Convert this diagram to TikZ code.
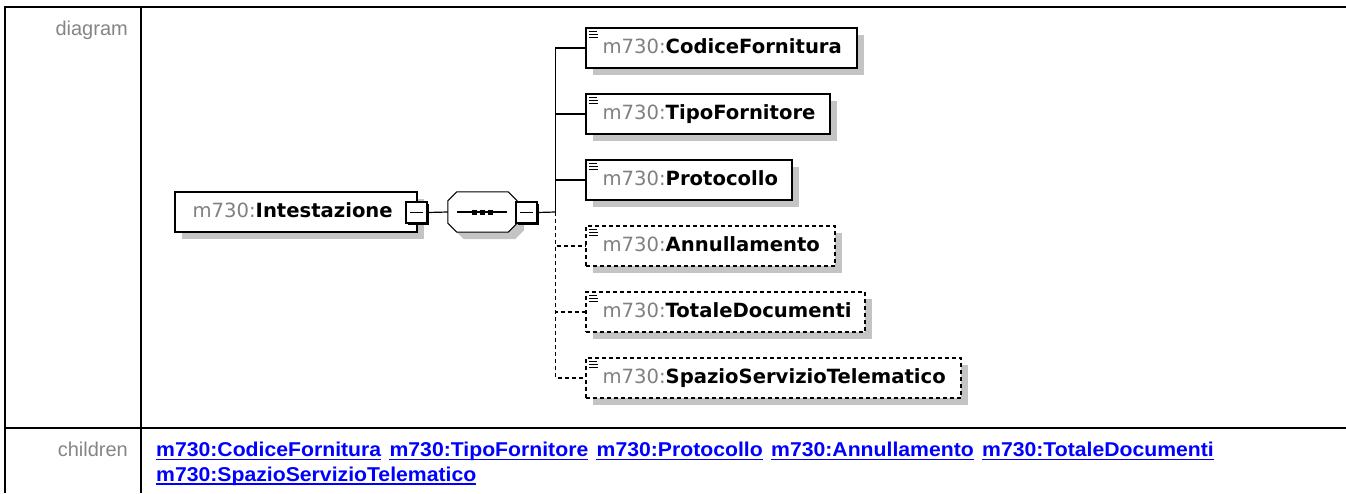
\documentclass[tikz,border=0pt]{standalone}
\usepackage{graphicx}
\usepackage{fontspec}
\setmainfont{Liberation Sans}
\newfontfamily\dvs{DejaVu Sans}
\usetikzlibrary{shadows}
\definecolor{pfx}{HTML}{808080}
\definecolor{nmcol}{HTML}{000000}
\definecolor{shadowgray}{HTML}{C4C4C4}
\definecolor{linkblue}{HTML}{0000FF}
\definecolor{lblgray}{HTML}{858585}
\tikzset{
  shadowed/.style={drop shadow={shadow xshift=7pt, shadow yshift=-7pt, fill=shadowgray, opacity=1}},
  elbox/.style={draw=black, line width=1.2pt, fill=white, inner sep=0pt, shadowed},
  optbox/.style={elbox, dash pattern=on 4pt off 3pt},
  octo/.style={draw=black, line width=1pt, fill=white, shadowed},
  minusbox/.style={draw=black, line width=1.2pt, fill=white, minimum size=21pt, inner sep=0pt,
     drop shadow={shadow xshift=2pt, shadow yshift=-2pt, fill=black, opacity=1},
     path picture={\draw[line width=1.2pt] ([xshift=4pt]path picture bounding box.west) -- ([xshift=-4pt]path picture bounding box.east);}},
  conn/.style={line width=1.2pt},
  optconn/.style={conn, dash pattern=on 4pt off 3pt},
  eltext/.style={anchor=base west, inner sep=0pt, font=\dvs\fontsize{19.6}{22}\selectfont},
  linkstyle/.style={anchor=base west, inner sep=0pt, text=linkblue, font=\bfseries\fontsize{20}{24}\selectfont},
  lbl/.style={anchor=base east, inner sep=0pt, text=lblgray, font=\fontsize{20}{24}\selectfont},
  tline/.style={line width=2pt}
}
\newcommand\wid[1]{\scalebox{1.06}[1]{#1}}
\newcommand\elname[1]{{\color{pfx}m730:}{\bfseries\color{nmcol}#1}}
\newcommand\docicon[1]{%
  \draw[line width=1.1pt] ([shift={(4pt,-4pt)}]#1.north west) -- +(8,0);
  \draw[line width=1.1pt] ([shift={(4pt,-7pt)}]#1.north west) -- +(9,0);
  \draw[line width=1.1pt] ([shift={(4pt,-10pt)}]#1.north west) -- +(9,0);}
\begin{document}
\begin{tikzpicture}[x=1pt,y=-1pt]
\useasboundingbox (0,0) rectangle (1346,493);
% table frame
\draw[tline] (4,7) -- (1346,7);
\draw[tline] (5,6) -- (5,493);
\draw[tline] (141,7) -- (141,493);
\draw[tline] (5,428) -- (1346,428);
\node[lbl] (lbdiag) at (128,35.5) {diagram};
\node[lbl] (lbchild) at (128,456.5) {children};

% root element
\node[elbox, minimum width=242pt, minimum height=40pt] (root) at (296,212) {};
\node[eltext] (roott) at ([shift={(18pt,-26pt)}]root.north west) {\elname{Intestazione}};
\node[minusbox] (m1) at (416.5,212.5) {};

% sequence compositor
\node[draw=none, minimum width=69pt, minimum height=40pt, inner sep=0pt] (seq) at (482.5,212) {};
\path[octo] ([yshift=-9pt]seq.north west) -- ([xshift=9pt]seq.north west) -- ([xshift=-9pt]seq.north east)
  -- ([yshift=-9pt]seq.north east) -- ([yshift=9pt]seq.south east) -- ([xshift=-9pt]seq.south east)
  -- ([xshift=9pt]seq.south west) -- ([yshift=9pt]seq.south west) -- cycle;
\draw[conn] ([xshift=9pt]seq.west) -- ([xshift=-10pt]seq.east);
\foreach \dx in {-8,0,8}
  \fill ([shift={(\dx pt-2.5pt,2.5pt)}]seq.center) rectangle +(5,5);
\node[minusbox] (m2) at (526.5,212.5) {};
\draw[conn] (m1.east) -- (seq.west);

% children boxes
\node[elbox, minimum width=271pt, minimum height=40pt] (c1) at (721.5,48) {};
\node[elbox, minimum width=244pt, minimum height=40pt] (c2) at (708,114) {};
\node[elbox, minimum width=206pt, minimum height=40pt] (c3) at (689,180) {};
\node[optbox, minimum width=249pt, minimum height=40pt] (c4) at (710.5,246) {};
\node[optbox, minimum width=279pt, minimum height=40pt] (c5) at (725.5,312) {};
\node[optbox, minimum width=375pt, minimum height=40pt] (c6) at (773.5,378) {};
\node[eltext] (t1) at ([shift={(17pt,-26pt)}]c1.north west) {\elname{CodiceFornitura}};
\node[eltext] (t2) at ([shift={(17pt,-26pt)}]c2.north west) {\elname{TipoFornitore}};
\node[eltext] (t3) at ([shift={(17pt,-26pt)}]c3.north west) {\elname{Protocollo}};
\node[eltext] (t4) at ([shift={(17pt,-26pt)}]c4.north west) {\elname{Annullamento}};
\node[eltext] (t5) at ([shift={(17pt,-26pt)}]c5.north west) {\elname{TotaleDocumenti}};
\node[eltext] (t6) at ([shift={(17pt,-26pt)}]c6.north west) {\elname{SpazioServizioTelematico}};
\foreach \c in {c1,c2,c3,c4,c5,c6} {\docicon{\c}}

% connectors
\coordinate (tr) at (555.5,212);
\draw[conn] (m2.east) -- (tr);
\draw[conn] (tr) |- (c1.west);
\draw[conn] (tr) |- (c2.west);
\draw[conn] (tr) |- (c3.west);
\draw[optconn] (tr) |- (c4.west);
\draw[optconn] (tr) |- (c5.west);
\draw[optconn] (tr) |- (c6.west);

% children links
\node[linkstyle] (k1) at (156,456.5) {\wid{m730:CodiceFornitura}};
\node[linkstyle] (k2) at ([xshift=8pt]k1.base east) {\wid{m730:TipoFornitore}};
\node[linkstyle] (k3) at ([xshift=8pt]k2.base east) {\wid{m730:Protocollo}};
\node[linkstyle] (k4) at ([xshift=8pt]k3.base east) {\wid{m730:Annullamento}};
\node[linkstyle] (k5) at ([xshift=8pt]k4.base east) {\wid{m730:TotaleDocumenti}};
\node[linkstyle] (k6) at (156,481) {\wid{m730:SpazioServizioTelematico}};
\foreach \k in {k1,k2,k3,k4,k5,k6}
  \draw[linkblue, line width=1.8pt] ([yshift=-3pt]\k.base west) -- ([yshift=-3pt]\k.base east);
\end{tikzpicture}
\end{document}
